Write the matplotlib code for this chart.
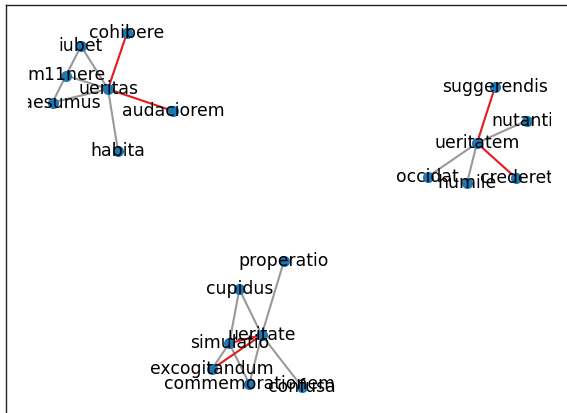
import matplotlib
matplotlib.use("Agg")
import matplotlib.pyplot as plt
from matplotlib.collections import LineCollection

# ---- data: node layout (x, y in layout units) ----
nodes = ["cohibere", "iubet", "m11nere", "ueritas", "praesumus", "audaciorem", "habita",
         "suggerendis", "nutantis", "ueritatem", "occidat", "humile", "crederet",
         "properatio", "cupidus", "ueritate", "simulatio", "excogitandum",
         "commemorationem", "confusa"]
node_x = [127, 81, 66, 108, 52.5, 173, 118,
          495, 526.5, 477, 427.5, 467, 516,
          284, 239.3, 261.7, 229.3, 211.7, 249.3, 301.7]
node_y = [33, 46, 75.5, 89, 102.5, 111, 151,
          87, 120.7, 143, 177, 183, 178,
          261, 289.3, 335, 343.3, 369.3, 384, 386.5]

edge_src = ["ueritas", "ueritas", "ueritas", "ueritas", "ueritas", "ueritas", "iubet", "m11nere",
            "ueritatem", "ueritatem", "ueritatem", "ueritatem", "ueritatem",
            "ueritate", "ueritate", "ueritate", "ueritate", "ueritate", "ueritate",
            "cupidus", "simulatio", "simulatio"]
edge_dst = ["cohibere", "audaciorem", "habita", "iubet", "m11nere", "praesumus", "m11nere", "praesumus",
            "suggerendis", "crederet", "nutantis", "occidat", "humile",
            "simulatio", "excogitandum", "properatio", "cupidus", "commemorationem", "confusa",
            "simulatio", "excogitandum", "commemorationem"]
edge_highlight = [1, 1, 0, 0, 0, 0, 0, 0,
                  1, 1, 0, 0, 0,
                  1, 1, 0, 0, 0, 0,
                  0, 0, 0]

W, H = 567, 413
fig = plt.figure(figsize=(W / 100, H / 100), dpi=100)

# frame axes (only left/top border visible)
axf = fig.add_axes([6 / W, -50 / H, 600 / W, 458 / H])
axf.set_xticks([])
axf.set_yticks([])
for s in axf.spines.values():
    s.set_linewidth(1.0)
    s.set_color("#222222")

# network axes (clips labels)
ax = fig.add_axes([28 / W, 0, 523 / W, 1])
ax.set_xlim(28, 551)
ax.set_ylim(H, 0)
ax.axis("off")

pos = {n: (x, y) for n, x, y in zip(nodes, node_x, node_y)}
segs_gray = [[pos[a], pos[b]] for a, b, h in zip(edge_src, edge_dst, edge_highlight) if not h]
segs_red = [[pos[a], pos[b]] for a, b, h in zip(edge_src, edge_dst, edge_highlight) if h]
ax.add_collection(LineCollection(segs_gray, colors="#999999", linewidths=1.5, zorder=1))
ax.add_collection(LineCollection(segs_red, colors="#e41a1c", linewidths=1.5, zorder=1))

ax.scatter(node_x, node_y, s=64, c="#1f77b4", zorder=2, linewidths=0)

for n, x, y in zip(nodes, node_x, node_y):
    ax.text(x, y, n, ha="center", va="center", fontsize=12.4, color="black",
            family="DejaVu Sans", zorder=3, clip_on=True)

fig.savefig("out.png", dpi=100)
